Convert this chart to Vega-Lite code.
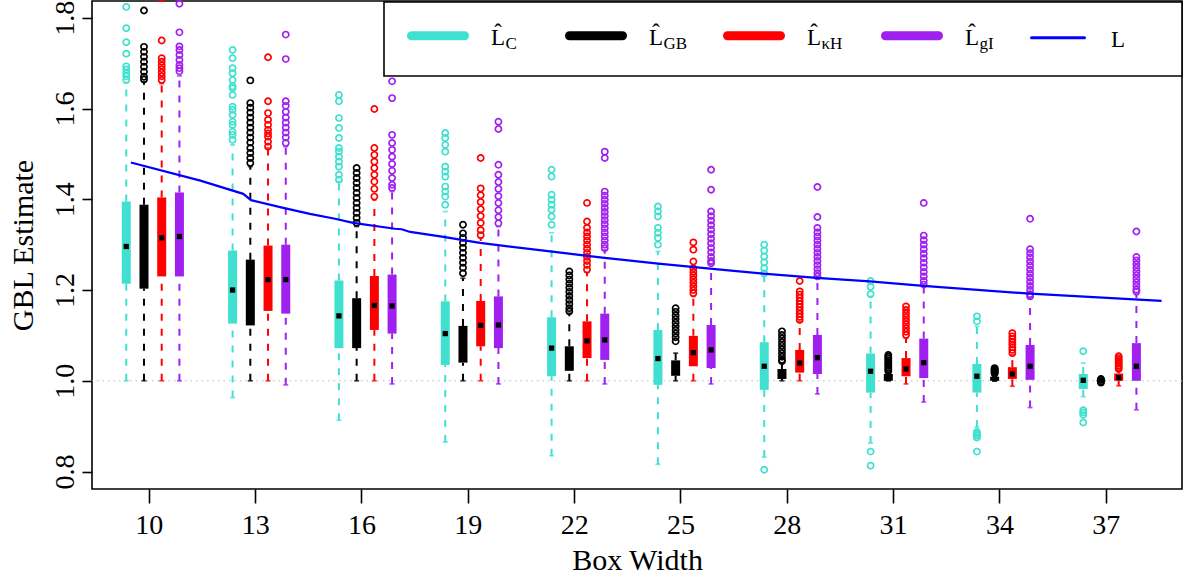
{
  "$schema": "https://vega.github.io/schema/vega-lite/v6.json",
  "width": 1090,
  "height": 488,
  "autosize": {"type": "none"},
  "padding": {"left": 92, "top": 1, "right": 4, "bottom": 92},
  "background": "white",
  "config": {
    "font": "Liberation Serif",
    "view": {"stroke": "black", "strokeWidth": 1.6},
    "axis": {
      "domain": false, "grid": false,
      "labelFont": "Liberation Serif", "titleFont": "Liberation Serif",
      "labelColor": "black", "titleColor": "black", "tickColor": "black",
      "tickWidth": 1.6, "titleFontWeight": "normal"
    },
    "legend": {"labelFont": "Liberation Serif", "labelColor": "black"}
  },
  "datasets": {
    "boxes": [
      {"w":10,"est":"C","lo":1.000,"q1":1.214,"med":1.296,"q3":1.395,"hi":1.657},
      {"w":10,"est":"GB","lo":1.000,"q1":1.203,"med":1.290,"q3":1.388,"hi":1.659},
      {"w":10,"est":"κH","lo":1.000,"q1":1.230,"med":1.315,"q3":1.404,"hi":1.655},
      {"w":10,"est":"gI","lo":1.000,"q1":1.230,"med":1.318,"q3":1.415,"hi":1.672},
      {"w":13,"est":"C","lo":0.963,"q1":1.126,"med":1.200,"q3":1.287,"hi":1.520},
      {"w":13,"est":"GB","lo":1.000,"q1":1.122,"med":1.195,"q3":1.267,"hi":1.472},
      {"w":13,"est":"κH","lo":1.000,"q1":1.154,"med":1.223,"q3":1.298,"hi":1.513},
      {"w":13,"est":"gI","lo":0.991,"q1":1.148,"med":1.223,"q3":1.300,"hi":1.516},
      {"w":16,"est":"C","lo":0.913,"q1":1.072,"med":1.143,"q3":1.221,"hi":1.439},
      {"w":16,"est":"GB","lo":1.000,"q1":1.072,"med":1.125,"q3":1.182,"hi":1.340},
      {"w":16,"est":"κH","lo":1.000,"q1":1.112,"med":1.166,"q3":1.231,"hi":1.399},
      {"w":16,"est":"gI","lo":0.993,"q1":1.104,"med":1.165,"q3":1.234,"hi":1.417},
      {"w":19,"est":"C","lo":0.865,"q1":1.035,"med":1.104,"q3":1.175,"hi":1.373},
      {"w":19,"est":"GB","lo":1.000,"q1":1.040,"med":1.075,"q3":1.121,"hi":1.226},
      {"w":19,"est":"κH","lo":1.000,"q1":1.076,"med":1.122,"q3":1.176,"hi":1.315},
      {"w":19,"est":"gI","lo":0.993,"q1":1.072,"med":1.123,"q3":1.186,"hi":1.340},
      {"w":22,"est":"C","lo":0.835,"q1":1.010,"med":1.072,"q3":1.140,"hi":1.326},
      {"w":22,"est":"GB","lo":1.000,"q1":1.022,"med":1.045,"q3":1.076,"hi":1.149},
      {"w":22,"est":"κH","lo":1.000,"q1":1.050,"med":1.088,"q3":1.131,"hi":1.239},
      {"w":22,"est":"gI","lo":0.993,"q1":1.046,"med":1.090,"q3":1.148,"hi":1.289},
      {"w":25,"est":"C","lo":0.816,"q1":0.991,"med":1.049,"q3":1.112,"hi":1.285},
      {"w":25,"est":"GB","lo":1.000,"q1":1.011,"med":1.027,"q3":1.045,"hi":1.061},
      {"w":25,"est":"κH","lo":1.000,"q1":1.032,"med":1.062,"q3":1.099,"hi":1.186},
      {"w":25,"est":"gI","lo":0.993,"q1":1.028,"med":1.068,"q3":1.123,"hi":1.256},
      {"w":28,"est":"C","lo":0.832,"q1":0.980,"med":1.032,"q3":1.085,"hi":1.230},
      {"w":28,"est":"GB","lo":1.000,"q1":1.004,"med":1.014,"q3":1.026,"hi":1.039},
      {"w":28,"est":"κH","lo":1.000,"q1":1.018,"med":1.039,"q3":1.068,"hi":1.131},
      {"w":28,"est":"gI","lo":0.971,"q1":1.015,"med":1.051,"q3":1.101,"hi":1.226},
      {"w":31,"est":"C","lo":0.863,"q1":0.974,"med":1.021,"q3":1.060,"hi":1.186},
      {"w":31,"est":"GB","lo":1.000,"q1":1.000,"med":1.005,"q3":1.015,"hi":1.019},
      {"w":31,"est":"κH","lo":0.993,"q1":1.010,"med":1.026,"q3":1.050,"hi":1.094},
      {"w":31,"est":"gI","lo":0.953,"q1":1.006,"med":1.040,"q3":1.093,"hi":1.208},
      {"w":34,"est":"C","lo":0.898,"q1":0.974,"med":1.010,"q3":1.037,"hi":1.120},
      {"w":34,"est":"GB","lo":1.000,"q1":1.000,"med":1.004,"q3":1.009,"hi":1.013},
      {"w":34,"est":"κH","lo":0.988,"q1":1.004,"med":1.015,"q3":1.030,"hi":1.057},
      {"w":34,"est":"gI","lo":0.941,"q1":1.002,"med":1.032,"q3":1.079,"hi":1.182},
      {"w":37,"est":"C","lo":0.965,"q1":0.982,"med":1.001,"q3":1.015,"hi":1.039},
      {"w":37,"est":"GB","lo":0.997,"q1":0.999,"med":1.000,"q3":1.002,"hi":1.003},
      {"w":37,"est":"κH","lo":0.989,"q1":1.000,"med":1.007,"q3":1.016,"hi":1.022},
      {"w":37,"est":"gI","lo":0.936,"q1":1.000,"med":1.032,"q3":1.083,"hi":1.190}
    ],
    "outliers": [
      {"w":10,"est":"C","v":1.824},{"w":10,"est":"C","v":1.777},{"w":10,"est":"C","v":1.746},{"w":10,"est":"C","v":1.721},{"w":10,"est":"C","v":1.693},{"w":10,"est":"C","v":1.686},{"w":10,"est":"C","v":1.678},{"w":10,"est":"C","v":1.671},{"w":10,"est":"C","v":1.663},
      {"w":10,"est":"GB","v":1.816},{"w":10,"est":"GB","v":1.736},{"w":10,"est":"GB","v":1.725},{"w":10,"est":"GB","v":1.714},{"w":10,"est":"GB","v":1.703},{"w":10,"est":"GB","v":1.692},{"w":10,"est":"GB","v":1.681},{"w":10,"est":"GB","v":1.670},{"w":10,"est":"GB","v":1.664},
      {"w":10,"est":"κH","v":1.843},{"w":10,"est":"κH","v":1.750},{"w":10,"est":"κH","v":1.711},{"w":10,"est":"κH","v":1.703},{"w":10,"est":"κH","v":1.695},{"w":10,"est":"κH","v":1.687},{"w":10,"est":"κH","v":1.679},{"w":10,"est":"κH","v":1.671},{"w":10,"est":"κH","v":1.663},
      {"w":10,"est":"gI","v":1.831},{"w":10,"est":"gI","v":1.768},{"w":10,"est":"gI","v":1.737},{"w":10,"est":"gI","v":1.729},{"w":10,"est":"gI","v":1.718},{"w":10,"est":"gI","v":1.707},{"w":10,"est":"gI","v":1.696},{"w":10,"est":"gI","v":1.689},{"w":10,"est":"gI","v":1.682},
      {"w":13,"est":"C","v":1.729},{"w":13,"est":"C","v":1.711},{"w":13,"est":"C","v":1.689},{"w":13,"est":"C","v":1.678},{"w":13,"est":"C","v":1.663},{"w":13,"est":"C","v":1.649},{"w":13,"est":"C","v":1.645},{"w":13,"est":"C","v":1.630},{"w":13,"est":"C","v":1.604},{"w":13,"est":"C","v":1.597},{"w":13,"est":"C","v":1.586},{"w":13,"est":"C","v":1.571},{"w":13,"est":"C","v":1.564},{"w":13,"est":"C","v":1.549},{"w":13,"est":"C","v":1.542},{"w":13,"est":"C","v":1.531},
      {"w":13,"est":"GB","v":1.662},{"w":13,"est":"GB","v":1.612},{"w":13,"est":"GB","v":1.602},{"w":13,"est":"GB","v":1.591},{"w":13,"est":"GB","v":1.580},{"w":13,"est":"GB","v":1.569},{"w":13,"est":"GB","v":1.558},{"w":13,"est":"GB","v":1.547},{"w":13,"est":"GB","v":1.536},{"w":13,"est":"GB","v":1.525},{"w":13,"est":"GB","v":1.513},{"w":13,"est":"GB","v":1.502},{"w":13,"est":"GB","v":1.491},{"w":13,"est":"GB","v":1.480},
      {"w":13,"est":"κH","v":1.713},{"w":13,"est":"κH","v":1.616},{"w":13,"est":"κH","v":1.590},{"w":13,"est":"κH","v":1.575},{"w":13,"est":"κH","v":1.564},{"w":13,"est":"κH","v":1.553},{"w":13,"est":"κH","v":1.545},{"w":13,"est":"κH","v":1.538},{"w":13,"est":"κH","v":1.527},{"w":13,"est":"κH","v":1.516},
      {"w":13,"est":"gI","v":1.763},{"w":13,"est":"gI","v":1.709},{"w":13,"est":"gI","v":1.616},{"w":13,"est":"gI","v":1.606},{"w":13,"est":"gI","v":1.593},{"w":13,"est":"gI","v":1.580},{"w":13,"est":"gI","v":1.569},{"w":13,"est":"gI","v":1.558},{"w":13,"est":"gI","v":1.547},{"w":13,"est":"gI","v":1.536},{"w":13,"est":"gI","v":1.524},
      {"w":16,"est":"C","v":1.630},{"w":16,"est":"C","v":1.616},{"w":16,"est":"C","v":1.579},{"w":16,"est":"C","v":1.557},{"w":16,"est":"C","v":1.535},{"w":16,"est":"C","v":1.513},{"w":16,"est":"C","v":1.505},{"w":16,"est":"C","v":1.494},{"w":16,"est":"C","v":1.483},{"w":16,"est":"C","v":1.472},{"w":16,"est":"C","v":1.454},{"w":16,"est":"C","v":1.443},
      {"w":16,"est":"GB","v":1.469},{"w":16,"est":"GB","v":1.458},{"w":16,"est":"GB","v":1.447},{"w":16,"est":"GB","v":1.436},{"w":16,"est":"GB","v":1.425},{"w":16,"est":"GB","v":1.414},{"w":16,"est":"GB","v":1.403},{"w":16,"est":"GB","v":1.392},{"w":16,"est":"GB","v":1.381},{"w":16,"est":"GB","v":1.370},{"w":16,"est":"GB","v":1.359},{"w":16,"est":"GB","v":1.348},
      {"w":16,"est":"κH","v":1.599},{"w":16,"est":"κH","v":1.513},{"w":16,"est":"κH","v":1.498},{"w":16,"est":"κH","v":1.483},{"w":16,"est":"κH","v":1.469},{"w":16,"est":"κH","v":1.454},{"w":16,"est":"κH","v":1.439},{"w":16,"est":"κH","v":1.423},{"w":16,"est":"κH","v":1.406},
      {"w":16,"est":"gI","v":1.660},{"w":16,"est":"gI","v":1.623},{"w":16,"est":"gI","v":1.542},{"w":16,"est":"gI","v":1.524},{"w":16,"est":"gI","v":1.509},{"w":16,"est":"gI","v":1.494},{"w":16,"est":"gI","v":1.478},{"w":16,"est":"gI","v":1.463},{"w":16,"est":"gI","v":1.447},{"w":16,"est":"gI","v":1.432},{"w":16,"est":"gI","v":1.425},
      {"w":19,"est":"C","v":1.546},{"w":19,"est":"C","v":1.535},{"w":19,"est":"C","v":1.520},{"w":19,"est":"C","v":1.505},{"w":19,"est":"C","v":1.472},{"w":19,"est":"C","v":1.461},{"w":19,"est":"C","v":1.450},{"w":19,"est":"C","v":1.428},{"w":19,"est":"C","v":1.417},{"w":19,"est":"C","v":1.406},{"w":19,"est":"C","v":1.388},
      {"w":19,"est":"GB","v":1.344},{"w":19,"est":"GB","v":1.325},{"w":19,"est":"GB","v":1.315},{"w":19,"est":"GB","v":1.304},{"w":19,"est":"GB","v":1.293},{"w":19,"est":"GB","v":1.282},{"w":19,"est":"GB","v":1.271},{"w":19,"est":"GB","v":1.260},{"w":19,"est":"GB","v":1.249},{"w":19,"est":"GB","v":1.237},
      {"w":19,"est":"κH","v":1.491},{"w":19,"est":"κH","v":1.424},{"w":19,"est":"κH","v":1.409},{"w":19,"est":"κH","v":1.394},{"w":19,"est":"κH","v":1.378},{"w":19,"est":"κH","v":1.363},{"w":19,"est":"κH","v":1.348},{"w":19,"est":"κH","v":1.332},{"w":19,"est":"κH","v":1.321},
      {"w":19,"est":"gI","v":1.571},{"w":19,"est":"gI","v":1.555},{"w":19,"est":"gI","v":1.476},{"w":19,"est":"gI","v":1.454},{"w":19,"est":"gI","v":1.438},{"w":19,"est":"gI","v":1.423},{"w":19,"est":"gI","v":1.407},{"w":19,"est":"gI","v":1.392},{"w":19,"est":"gI","v":1.376},{"w":19,"est":"gI","v":1.361},{"w":19,"est":"gI","v":1.347},
      {"w":22,"est":"C","v":1.465},{"w":22,"est":"C","v":1.450},{"w":22,"est":"C","v":1.410},{"w":22,"est":"C","v":1.399},{"w":22,"est":"C","v":1.388},{"w":22,"est":"C","v":1.377},{"w":22,"est":"C","v":1.362},{"w":22,"est":"C","v":1.344},
      {"w":22,"est":"GB","v":1.241},{"w":22,"est":"GB","v":1.232},{"w":22,"est":"GB","v":1.223},{"w":22,"est":"GB","v":1.214},{"w":22,"est":"GB","v":1.205},{"w":22,"est":"GB","v":1.196},{"w":22,"est":"GB","v":1.187},{"w":22,"est":"GB","v":1.178},{"w":22,"est":"GB","v":1.169},{"w":22,"est":"GB","v":1.160},{"w":22,"est":"GB","v":1.153},
      {"w":22,"est":"κH","v":1.392},{"w":22,"est":"κH","v":1.351},{"w":22,"est":"κH","v":1.337},{"w":22,"est":"κH","v":1.327},{"w":22,"est":"κH","v":1.318},{"w":22,"est":"κH","v":1.309},{"w":22,"est":"κH","v":1.300},{"w":22,"est":"κH","v":1.291},{"w":22,"est":"κH","v":1.282},{"w":22,"est":"κH","v":1.273},{"w":22,"est":"κH","v":1.264},{"w":22,"est":"κH","v":1.255},{"w":22,"est":"κH","v":1.245},
      {"w":22,"est":"gI","v":1.505},{"w":22,"est":"gI","v":1.491},{"w":22,"est":"gI","v":1.417},{"w":22,"est":"gI","v":1.408},{"w":22,"est":"gI","v":1.399},{"w":22,"est":"gI","v":1.390},{"w":22,"est":"gI","v":1.381},{"w":22,"est":"gI","v":1.372},{"w":22,"est":"gI","v":1.363},{"w":22,"est":"gI","v":1.354},{"w":22,"est":"gI","v":1.345},{"w":22,"est":"gI","v":1.336},{"w":22,"est":"gI","v":1.327},{"w":22,"est":"gI","v":1.318},{"w":22,"est":"gI","v":1.309},{"w":22,"est":"gI","v":1.300},{"w":22,"est":"gI","v":1.292},
      {"w":25,"est":"C","v":1.384},{"w":25,"est":"C","v":1.373},{"w":25,"est":"C","v":1.362},{"w":25,"est":"C","v":1.337},{"w":25,"est":"C","v":1.326},{"w":25,"est":"C","v":1.315},{"w":25,"est":"C","v":1.300},
      {"w":25,"est":"GB","v":1.160},{"w":25,"est":"GB","v":1.152},{"w":25,"est":"GB","v":1.144},{"w":25,"est":"GB","v":1.136},{"w":25,"est":"GB","v":1.128},{"w":25,"est":"GB","v":1.120},{"w":25,"est":"GB","v":1.112},{"w":25,"est":"GB","v":1.104},{"w":25,"est":"GB","v":1.096},{"w":25,"est":"GB","v":1.087},
      {"w":25,"est":"κH","v":1.305},{"w":25,"est":"κH","v":1.289},{"w":25,"est":"κH","v":1.263},{"w":25,"est":"κH","v":1.248},{"w":25,"est":"κH","v":1.240},{"w":25,"est":"κH","v":1.232},{"w":25,"est":"κH","v":1.224},{"w":25,"est":"κH","v":1.216},{"w":25,"est":"κH","v":1.208},{"w":25,"est":"κH","v":1.200},{"w":25,"est":"κH","v":1.193},
      {"w":25,"est":"gI","v":1.465},{"w":25,"est":"gI","v":1.421},{"w":25,"est":"gI","v":1.373},{"w":25,"est":"gI","v":1.363},{"w":25,"est":"gI","v":1.353},{"w":25,"est":"gI","v":1.343},{"w":25,"est":"gI","v":1.333},{"w":25,"est":"gI","v":1.323},{"w":25,"est":"gI","v":1.313},{"w":25,"est":"gI","v":1.303},{"w":25,"est":"gI","v":1.293},{"w":25,"est":"gI","v":1.283},{"w":25,"est":"gI","v":1.273},{"w":25,"est":"gI","v":1.264},{"w":25,"est":"gI","v":1.259},
      {"w":28,"est":"C","v":1.300},{"w":28,"est":"C","v":1.287},{"w":28,"est":"C","v":1.274},{"w":28,"est":"C","v":1.261},{"w":28,"est":"C","v":1.248},{"w":28,"est":"C","v":1.237},{"w":28,"est":"C","v":0.804},
      {"w":28,"est":"GB","v":1.109},{"w":28,"est":"GB","v":1.101},{"w":28,"est":"GB","v":1.093},{"w":28,"est":"GB","v":1.085},{"w":28,"est":"GB","v":1.077},{"w":28,"est":"GB","v":1.069},{"w":28,"est":"GB","v":1.061},{"w":28,"est":"GB","v":1.053},{"w":28,"est":"GB","v":1.046},{"w":28,"est":"GB","v":1.043},
      {"w":28,"est":"κH","v":1.220},{"w":28,"est":"κH","v":1.197},{"w":28,"est":"κH","v":1.190},{"w":28,"est":"κH","v":1.183},{"w":28,"est":"κH","v":1.176},{"w":28,"est":"κH","v":1.169},{"w":28,"est":"κH","v":1.162},{"w":28,"est":"κH","v":1.155},{"w":28,"est":"κH","v":1.148},{"w":28,"est":"κH","v":1.141},{"w":28,"est":"κH","v":1.134},
      {"w":28,"est":"gI","v":1.427},{"w":28,"est":"gI","v":1.361},{"w":28,"est":"gI","v":1.337},{"w":28,"est":"gI","v":1.327},{"w":28,"est":"gI","v":1.318},{"w":28,"est":"gI","v":1.309},{"w":28,"est":"gI","v":1.300},{"w":28,"est":"gI","v":1.291},{"w":28,"est":"gI","v":1.282},{"w":28,"est":"gI","v":1.273},{"w":28,"est":"gI","v":1.264},{"w":28,"est":"gI","v":1.255},{"w":28,"est":"gI","v":1.246},{"w":28,"est":"gI","v":1.237},{"w":28,"est":"gI","v":1.230},
      {"w":31,"est":"C","v":1.220},{"w":31,"est":"C","v":1.207},{"w":31,"est":"C","v":1.191},{"w":31,"est":"C","v":0.844},{"w":31,"est":"C","v":0.813},
      {"w":31,"est":"GB","v":1.021},{"w":31,"est":"GB","v":1.025},{"w":31,"est":"GB","v":1.029},{"w":31,"est":"GB","v":1.033},{"w":31,"est":"GB","v":1.037},{"w":31,"est":"GB","v":1.041},{"w":31,"est":"GB","v":1.045},{"w":31,"est":"GB","v":1.049},{"w":31,"est":"GB","v":1.053},{"w":31,"est":"GB","v":1.057},
      {"w":31,"est":"κH","v":1.164},{"w":31,"est":"κH","v":1.156},{"w":31,"est":"κH","v":1.148},{"w":31,"est":"κH","v":1.140},{"w":31,"est":"κH","v":1.132},{"w":31,"est":"κH","v":1.124},{"w":31,"est":"κH","v":1.116},{"w":31,"est":"κH","v":1.108},{"w":31,"est":"κH","v":1.101},
      {"w":31,"est":"gI","v":1.392},{"w":31,"est":"gI","v":1.320},{"w":31,"est":"gI","v":1.310},{"w":31,"est":"gI","v":1.300},{"w":31,"est":"gI","v":1.290},{"w":31,"est":"gI","v":1.280},{"w":31,"est":"gI","v":1.270},{"w":31,"est":"gI","v":1.260},{"w":31,"est":"gI","v":1.250},{"w":31,"est":"gI","v":1.240},{"w":31,"est":"gI","v":1.230},{"w":31,"est":"gI","v":1.220},{"w":31,"est":"gI","v":1.212},
      {"w":34,"est":"C","v":1.142},{"w":34,"est":"C","v":1.131},{"w":34,"est":"C","v":0.887},{"w":34,"est":"C","v":0.883},{"w":34,"est":"C","v":0.879},{"w":34,"est":"C","v":0.875},{"w":34,"est":"C","v":0.844},
      {"w":34,"est":"GB","v":1.016},{"w":34,"est":"GB","v":1.018},{"w":34,"est":"GB","v":1.020},{"w":34,"est":"GB","v":1.022},{"w":34,"est":"GB","v":1.024},{"w":34,"est":"GB","v":1.026},{"w":34,"est":"GB","v":1.028},
      {"w":34,"est":"κH","v":1.105},{"w":34,"est":"κH","v":1.098},{"w":34,"est":"κH","v":1.092},{"w":34,"est":"κH","v":1.086},{"w":34,"est":"κH","v":1.080},{"w":34,"est":"κH","v":1.074},{"w":34,"est":"κH","v":1.068},{"w":34,"est":"κH","v":1.061},
      {"w":34,"est":"gI","v":1.357},{"w":34,"est":"gI","v":1.290},{"w":34,"est":"gI","v":1.281},{"w":34,"est":"gI","v":1.272},{"w":34,"est":"gI","v":1.263},{"w":34,"est":"gI","v":1.254},{"w":34,"est":"gI","v":1.245},{"w":34,"est":"gI","v":1.236},{"w":34,"est":"gI","v":1.227},{"w":34,"est":"gI","v":1.218},{"w":34,"est":"gI","v":1.209},{"w":34,"est":"gI","v":1.200},{"w":34,"est":"gI","v":1.191},{"w":34,"est":"gI","v":1.186},
      {"w":37,"est":"C","v":1.065},{"w":37,"est":"C","v":0.935},{"w":37,"est":"C","v":0.930},{"w":37,"est":"C","v":0.925},{"w":37,"est":"C","v":0.908},
      {"w":37,"est":"GB","v":0.996},{"w":37,"est":"GB","v":0.998},{"w":37,"est":"GB","v":1.002},{"w":37,"est":"GB","v":1.004},
      {"w":37,"est":"κH","v":1.026},{"w":37,"est":"κH","v":1.030},{"w":37,"est":"κH","v":1.034},{"w":37,"est":"κH","v":1.038},{"w":37,"est":"κH","v":1.042},{"w":37,"est":"κH","v":1.046},{"w":37,"est":"κH","v":1.050},{"w":37,"est":"κH","v":1.054},
      {"w":37,"est":"gI","v":1.329},{"w":37,"est":"gI","v":1.273},{"w":37,"est":"gI","v":1.265},{"w":37,"est":"gI","v":1.257},{"w":37,"est":"gI","v":1.249},{"w":37,"est":"gI","v":1.241},{"w":37,"est":"gI","v":1.233},{"w":37,"est":"gI","v":1.225},{"w":37,"est":"gI","v":1.217},{"w":37,"est":"gI","v":1.209},{"w":37,"est":"gI","v":1.201},{"w":37,"est":"gI","v":1.197}
    ],
    "curve": [
      {"w":9.48,"v":1.481,"est":"L"},{"w":11.44,"v":1.441,"est":"L"},{"w":12.65,"v":1.412,"est":"L"},
      {"w":12.87,"v":1.398,"est":"L"},{"w":13.78,"v":1.381,"est":"L"},{"w":14.53,"v":1.368,"est":"L"},
      {"w":15.24,"v":1.357,"est":"L"},{"w":15.75,"v":1.348,"est":"L"},{"w":16.93,"v":1.335,"est":"L"},
      {"w":17.12,"v":1.334,"est":"L"},{"w":17.36,"v":1.328,"est":"L"},{"w":18.30,"v":1.317,"est":"L"},
      {"w":19.33,"v":1.304,"est":"L"},{"w":21.31,"v":1.285,"est":"L"},{"w":22.72,"v":1.272,"est":"L"},
      {"w":24.36,"v":1.258,"est":"L"},{"w":25.82,"v":1.247,"est":"L"},{"w":27.32,"v":1.236,"est":"L"},
      {"w":28.83,"v":1.227,"est":"L"},{"w":30.33,"v":1.219,"est":"L"},{"w":31.84,"v":1.209,"est":"L"},
      {"w":34.85,"v":1.192,"est":"L"},{"w":38.56,"v":1.176,"est":"L"}
    ]
  },
  "layer": [
    {
      "description": "reference level at 1",
      "data": {"values": [{}]},
      "mark": {"type": "rule", "color": "#bbbbbb", "strokeWidth": 1, "strokeDash": [1.5, 4]},
      "encoding": {"y": {"datum": 1, "type": "quantitative", "scale": {"domain": [0.7615, 1.837], "nice": false, "zero": false}}}
    },
    {
      "description": "box plots per box width and estimator",
      "data": {"name": "boxes"},
      "encoding": {
        "x": {
          "field": "w", "type": "ordinal",
          "scale": {"type": "band", "paddingInner": 0, "paddingOuter": 0.1255, "align": 0.155},
          "axis": {"labelAngle": 0, "labelFontSize": 28, "tickSize": 14, "labelPadding": 8,
                   "title": "Box Width", "titleFontSize": 30, "titlePadding": 6}
        },
        "xOffset": {
          "field": "est", "type": "nominal",
          "scale": {"domain": ["C", "GB", "κH", "gI"], "paddingInner": 0, "paddingOuter": 1.0036, "align": 0.6}
        }
      },
      "layer": [
        {
          "mark": {"type": "rule", "strokeWidth": 2, "strokeDash": [7, 8]},
          "encoding": {
            "y": {"field": "lo", "type": "quantitative",
                  "scale": {"domain": [0.7615, 1.837], "nice": false, "zero": false},
                  "axis": {"values": [0.8, 1.0, 1.2, 1.4, 1.6, 1.8], "format": ".1f", "labelAngle": 270,
                           "labelFontSize": 28, "tickSize": 10, "labelPadding": 3,
                           "title": "GBL Estimate", "titleFontSize": 30, "titlePadding": 13}},
            "y2": {"field": "q1"},
            "color": {
              "field": "est", "type": "nominal",
              "scale": {"domain": ["C", "GB", "κH", "gI", "L"],
                        "range": ["#40E0D0", "#000000", "#FF0000", "#A020F0", "#0000FF"]},
              "legend": {
                "title": null, "orient": "none", "legendX": 292, "legendY": 1, "direction": "horizontal",
                "symbolType": "M-1,0H7.833", "symbolSize": 144, "symbolStrokeWidth": 9,
                "labelFontSize": 23, "labelOffset": 62, "columnPadding": 45, "padding": 22,
                "strokeColor": "black", "fillColor": "white",
                "labelExpr": "datum.value === 'L' ? 'L\u2800\u2800' : 'L\u0302'",
                "encode": {
                  "symbols": {"update": {
                    "stroke": {"scale": "color", "field": "value"},
                    "fill": {"value": "transparent"},
                    "strokeWidth": {"signal": "datum.value === 'L' ? 3 : 9"},
                    "strokeCap": {"value": "round"},
                    "opacity": {"value": 1}
                  }},
                  "labels": {"update": {"dy": {"value": 2}}},
                  "legend": {"update": {"strokeWidth": {"value": 1.6}}}
                }
              }
            },
            "opacity": {
              "field": "est", "type": "nominal",
              "scale": {"domain": ["C", "GB", "κH", "gI"], "range": [1, 1, 1, 1]},
              "legend": {
                "title": null, "orient": "none", "legendX": 317, "legendY": 32.7, "direction": "horizontal",
                "symbolType": "M-1,0H7.833", "symbolSize": 144, "symbolStrokeWidth": 9,
                "symbolOpacity": 0, "symbolStrokeColor": "transparent", "symbolFillColor": "transparent",
                "labelFontSize": 17, "labelOffset": 75.5, "columnPadding": 23, "gridAlign": "all", "padding": 0,
                "encode": {"symbols": {"update": {
                  "opacity": {"value": 0},
                  "stroke": {"value": "transparent"},
                  "fill": {"value": "transparent"}
                }}}
              }
            }
          }
        },
        {
          "mark": {"type": "rule", "strokeWidth": 2, "strokeDash": [7, 8]},
          "encoding": {
            "y": {"field": "q3", "type": "quantitative"},
            "y2": {"field": "hi"},
            "color": {"field": "est", "type": "nominal"}
          }
        },
        {
          "mark": {"type": "tick", "size": 5, "thickness": 1.8},
          "encoding": {
            "y": {"field": "lo", "type": "quantitative"},
            "color": {"field": "est", "type": "nominal"}
          }
        },
        {
          "mark": {"type": "tick", "size": 5, "thickness": 1.8},
          "encoding": {
            "y": {"field": "hi", "type": "quantitative"},
            "color": {"field": "est", "type": "nominal"}
          }
        },
        {
          "mark": {"type": "rule", "strokeWidth": 9},
          "encoding": {
            "y": {"field": "q1", "type": "quantitative"},
            "y2": {"field": "q3"},
            "color": {"field": "est", "type": "nominal"}
          }
        },
        {
          "mark": {"type": "point", "shape": "square", "filled": true, "color": "black", "size": 28, "opacity": 1},
          "encoding": {"y": {"field": "med", "type": "quantitative"}}
        },
        {
          "data": {"name": "outliers"},
          "mark": {"type": "point", "filled": false, "shape": "circle", "size": 38, "strokeWidth": 1.7, "opacity": 1},
          "encoding": {
            "y": {"field": "v", "type": "quantitative"},
            "color": {"field": "est", "type": "nominal"}
          }
        }
      ]
    },
    {
      "description": "L curve",
      "data": {"name": "curve"},
      "mark": {"type": "line", "strokeWidth": 2.2},
      "encoding": {
        "x": {"field": "w", "type": "quantitative", "scale": {"domain": [8.383, 39.136], "nice": false, "zero": false}, "axis": null},
        "y": {"field": "v", "type": "quantitative"},
        "color": {"field": "est", "type": "nominal"}
      }
    }
  ],
  "resolve": {"scale": {"x": "independent"}}
}
